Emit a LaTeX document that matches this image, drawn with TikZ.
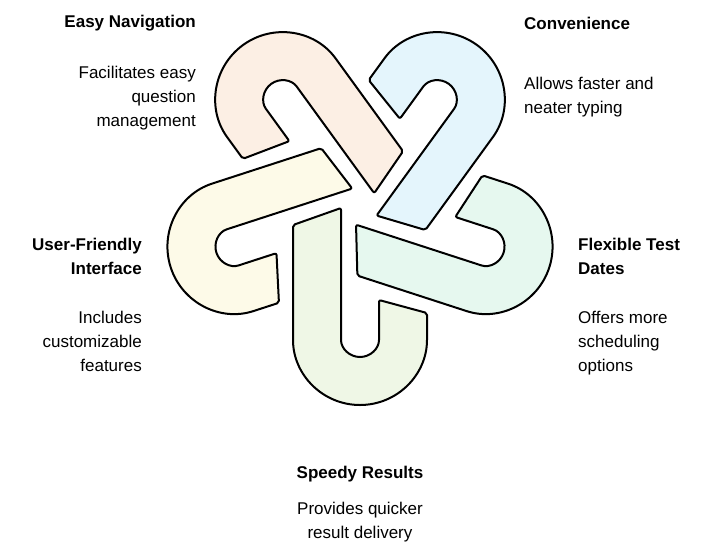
\documentclass[tikz,border=0pt]{standalone}
\usepackage{fontspec}
\setmainfont{Liberation Sans}
\begin{document}
\begin{tikzpicture}[x=1pt,y=-1pt,
  piece/.style={draw=black,line width=2pt,line join=round,rounded corners=2pt},
  ttl/.style={font=\fontsize{17}{24}\selectfont\bfseries,inner sep=0pt,align=#1},
  dsc/.style={font=\fontsize{17}{24}\selectfont,inner sep=0pt,align=#1}]
\useasboundingbox (0,0) rectangle (720,558);
\definecolor{cB}{HTML}{EFF7E6}
\definecolor{cY}{HTML}{FDFAE8}
\definecolor{cO}{HTML}{FCEFE4}
\definecolor{cL}{HTML}{E4F5FC}
\definecolor{cG}{HTML}{E6F8EF}
\foreach \a/\c in {0/cB,72/cG,144/cL,216/cO,288/cY}{
  \begin{scope}[shift={(360,206)},rotate=\a]
  \path[piece,fill=\c] (-67,19) -- (-67,132) arc[start angle=180,end angle=0,radius=67]
    -- (67,107) -- (19,94) -- (19,132) arc[start angle=0,end angle=180,radius=19]
    -- (-19,2) -- cycle;
  \end{scope}}
\node[ttl=right,anchor=east] (t1) at (196,23) {Easy Navigation};
\node[dsc=right,anchor=north east] (d1) at (196,66) {Facilitates easy\\question\\management};
\node[ttl=left,anchor=west] (t2) at (524,23) {Convenience};
\node[dsc=left,anchor=north west] (d2) at (524,77) {Allows faster and\\neater typing};
\node[ttl=left,anchor=north west] (t3) at (578,238) {Flexible Test\\Dates};
\node[dsc=left,anchor=north west] (d3) at (578,311) {Offers more\\scheduling\\options};
\node[ttl=right,anchor=north east] (t4) at (142,238) {User-Friendly\\Interface};
\node[dsc=right,anchor=north east] (d4) at (142,311) {Includes\\customizable\\features};
\node[ttl=center] (t5) at (360,474) {Speedy Results};
\node[dsc=center,anchor=north] (d5) at (360,502) {Provides quicker\\result delivery};
\end{tikzpicture}
\end{document}
